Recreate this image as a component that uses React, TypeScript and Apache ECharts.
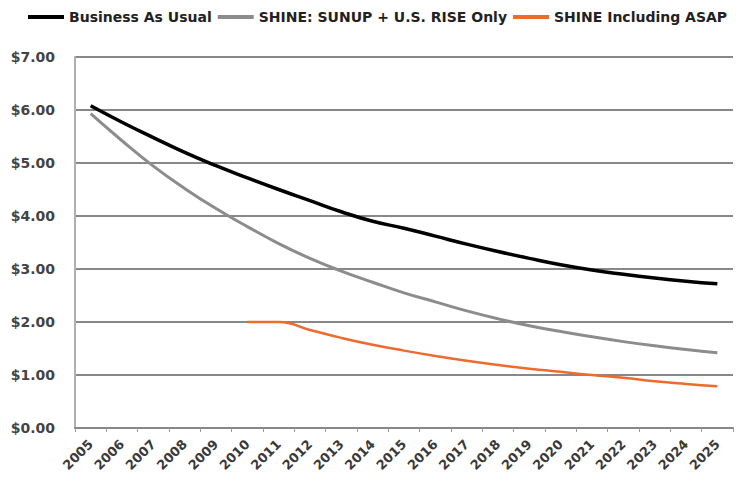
import React, { useEffect, useRef } from "react";
import * as echarts from "echarts";

const years = [
  "2005", "2006", "2007", "2008", "2009", "2010", "2011", "2012", "2013", "2014",
  "2015", "2016", "2017", "2018", "2019", "2020", "2021", "2022", "2023", "2024", "2025",
];

const businessAsUsual = [
  6.08, 5.77, 5.48, 5.2, 4.95, 4.72, 4.5, 4.29, 4.08, 3.9, 3.77, 3.62, 3.47, 3.33,
  3.2, 3.08, 2.98, 2.9, 2.83, 2.77, 2.72,
];

const shineSunupRise = [
  5.93, 5.42, 4.94, 4.52, 4.14, 3.8, 3.48, 3.2, 2.96, 2.75, 2.55, 2.38, 2.21,
  2.06, 1.93, 1.82, 1.72, 1.63, 1.55, 1.48, 1.42,
];

const shineAsap = [
  null, null, null, null, null, 2.0, 2.0, 1.85, 1.7, 1.57, 1.46, 1.36, 1.27, 1.19,
  1.12, 1.06, 1.0, 0.95, 0.88, 0.83, 0.79,
];

const seriesNames = [
  "Business As Usual",
  "SHINE: SUNUP + U.S. RISE Only",
  "SHINE Including ASAP",
];

const yTicks = { min: 0, max: 7, interval: 1 };

export default function App() {
  const ref = useRef<HTMLDivElement>(null);

  useEffect(() => {
    if (!ref.current) return;
    const chart = echarts.init(ref.current, null, { renderer: "svg" });
    const font = "DejaVu Sans, Verdana, sans-serif";
    chart.setOption({
      animation: false,
      backgroundColor: "#ffffff",
      legend: {
        left: 23,
        top: 5,
        width: 1000,
        icon: "rect",
        itemWidth: 36,
        itemHeight: 4,
        itemGap: 6,
        textStyle: {
          fontFamily: font,
          fontWeight: "bold",
          fontSize: 14,
          color: "#222",
        },
        data: seriesNames,
      },
      grid: { left: 75, right: 5, top: 57, bottom: 55 },
      xAxis: {
        type: "category",
        data: years,
        boundaryGap: true,
        axisLine: { lineStyle: { color: "#888888", width: 2 } },
        axisTick: { show: true, length: 4, lineStyle: { color: "#9a9a9a" } },
        axisLabel: {
          interval: 0,
          rotate: 45,
          margin: 14,
          fontFamily: font,
          fontWeight: "bold",
          fontSize: 13,
          color: "#3a3a3a",
        },
        splitLine: { show: false },
      },
      yAxis: {
        type: "value",
        min: yTicks.min,
        max: yTicks.max,
        interval: yTicks.interval,
        axisLine: { show: true, lineStyle: { color: "#b0b0b0", width: 2 } },
        axisTick: { show: false },
        axisLabel: {
          margin: 20,
          fontFamily: font,
          fontWeight: "bold",
          fontSize: 14,
          color: "#444",
          formatter: (v: number) => "$" + v.toFixed(2),
        },
        splitLine: { lineStyle: { color: "#888888", width: 2 } },
      },
      series: [
        {
          name: seriesNames[0],
          type: "line",
          data: businessAsUsual,
          smooth: true,
          showSymbol: false,
          lineStyle: { color: "#000000", width: 3.5 },
          itemStyle: { color: "#000000" },
        },
        {
          name: seriesNames[1],
          type: "line",
          data: shineSunupRise,
          smooth: true,
          showSymbol: false,
          lineStyle: { color: "#8c8c8c", width: 3 },
          itemStyle: { color: "#8c8c8c" },
        },
        {
          name: seriesNames[2],
          type: "line",
          data: shineAsap,
          smooth: true,
          showSymbol: false,
          lineStyle: { color: "#ec6b2d", width: 2.5 },
          itemStyle: { color: "#ec6b2d" },
        },
      ],
    });
    return () => chart.dispose();
  }, []);

  return <div ref={ref} style={{ width: 738, height: 483, position: "absolute", left: 0, top: 0 }} />;
}
